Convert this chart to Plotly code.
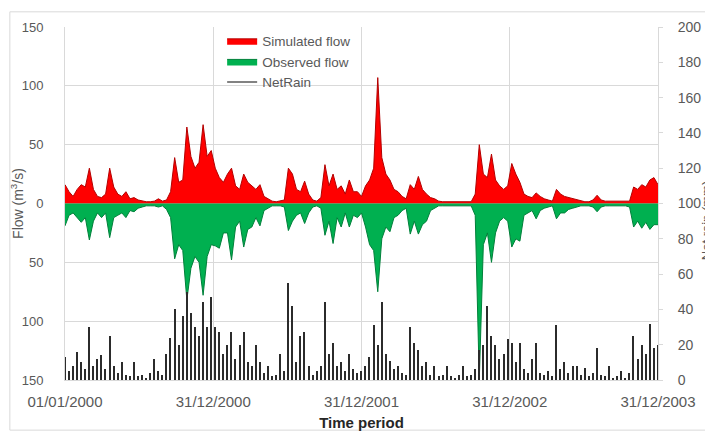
import pandas as pd
import plotly.graph_objects as go

# ~10-day sampling of the daily series, 01/01/2000 .. 31/12/2003
dates = pd.date_range("2000-01-01", "2003-12-31", freq="10D")

simulated_flow = [
    16, 10, 6, 12, 16, 14, 30, 12, 6, 5, 8, 30, 14, 8, 6, 10, 4, 5, 3, 2,
    1.5, 1.5, 2, 4, 2, 3, 10, 39, 18, 20, 65, 40, 30, 35, 67, 40, 45,
    30, 22, 18, 25, 30, 15, 12, 25, 18, 15, 12, 16, 6, 4, 2, 1.5, 2, 3,
    30, 25, 12, 10, 19, 8, 3, 2, 5, 33, 15, 25, 12, 15, 8, 20, 10, 10,
    6, 15, 20, 30, 107, 39, 25, 20, 12, 10, 6, 4, 16, 12, 23, 12, 8, 5,
    4, 2, 1.5, 1.5, 2, 1.5, 1.5, 1.5, 2, 1.5, 8, 50, 25, 22, 42, 20, 15,
    12, 15,
    34, 25, 18, 8, 6, 5, 9, 6, 4, 3, 2, 12, 8, 6, 5, 4, 3, 2, 1.5, 1.5,
    3, 7, 3, 2, 2, 1.5, 1.5, 1.5, 1.5, 2, 14, 12, 16, 14, 20, 22, 16,
]

observed_flow = [
    19, 10, 8, 12, 16, 12, 31, 15, 8, 12, 8, 29, 12, 10, 8, 12, 6, 7, 4, 3,
    2, 2, 2, 3, 2, 5, 12, 47, 35, 40, 82, 55, 45, 50, 78, 45, 35,
    36, 38, 25, 25, 48, 20, 15, 37, 22, 20, 12, 19, 6, 4, 2, 2, 2, 3,
    23, 15, 10, 8, 17, 8, 3, 2, 4, 27, 15, 34, 12, 20, 8, 20, 10, 12,
    8, 20, 35, 40, 75, 30, 20, 24, 12, 10, 6, 4, 26, 15, 26, 18, 15, 6,
    4, 2, 2, 2, 2, 2, 2, 2, 2, 2, 10, 150, 35, 25, 50, 25, 15, 12, 15,
    37, 30, 32, 10, 8, 6, 13, 6, 4, 3, 2, 13, 8, 8, 5, 4, 3, 2, 2, 2,
    3, 7, 3, 2, 2, 2, 2, 2, 2, 3, 20, 15, 21, 16, 22, 18, 18,
]

net_rain = [
    13, 5, 8, 16, 10, 6, 30, 8, 12, 14, 6, 25, 8, 4, 10, 3, 2, 10, 2, 3,
    1, 4, 12, 5, 3, 15, 24, 40, 20, 36, 50, 38, 30, 25, 44, 30, 47,
    30, 27, 15, 20, 27, 12, 20, 27, 10, 8, 20, 10, 4, 8, 2, 3, 15, 5,
    55, 42, 10, 25, 27, 8, 3, 5, 8, 44, 15, 21, 8, 10, 5, 15, 6, 4,
    5, 8, 13, 31, 20, 44, 15, 11, 6, 8, 4, 3, 30, 21, 17, 8, 10, 3,
    8, 2, 3, 8, 2, 1, 3, 8, 2, 3, 6, 17, 20, 42, 25, 20, 12, 15, 23,
    21, 10, 21, 6, 4, 12, 21, 4, 3, 5, 2, 31, 6, 10, 4, 8, 8, 3, 7, 2,
    4, 18, 3, 2, 8, 1, 2, 5, 1, 4, 25, 12, 20, 15, 32, 18, 20,
]

x_tick_vals = ["2000-01-01", "2000-12-31", "2001-12-31", "2002-12-31", "2003-12-31"]
x_tick_text = ["01/01/2000", "31/12/2000", "31/12/2001", "31/12/2002", "31/12/2003"]
flow_tick_vals = [-150, -100, -50, 0, 50, 100, 150]
flow_tick_text = ["150", "100", "50", "0", "50", "100", "150"]

GRID = "#d9d9d9"
TXT = "#595959"
FONT = "Liberation Sans, Arial, sans-serif"

fig = go.Figure()

fig.add_trace(go.Bar(
    x=dates, y=net_rain, yaxis="y2", name="NetRain", showlegend=False,
    marker=dict(color="#2b2b2b", line=dict(width=0)),
    width=3.2 * 86400000,
))

fig.add_trace(go.Scatter(
    x=dates, y=simulated_flow, name="Simulated flow", mode="lines",
    fill="tozeroy", fillcolor="#ff0000",
    line=dict(color="#b40000", width=1),
))
fig.add_trace(go.Scatter(
    x=dates, y=[-v for v in observed_flow], name="Observed flow", mode="lines",
    fill="tozeroy", fillcolor="#00b050",
    line=dict(color="#00803a", width=1),
))
# legend entry for the rain series (drawn as thin bars above)
fig.add_trace(go.Scatter(
    x=[None], y=[None], name="NetRain", mode="lines",
    line=dict(color="#595959", width=1.5),
))

# the page body adds an 8 px offset, margins compensate for it
fig.update_layout(
    width=713, height=436,
    margin=dict(l=57, r=63, t=19, b=64),
    paper_bgcolor="white", plot_bgcolor="white",
    font=dict(family=FONT, size=13, color=TXT),
    bargap=0,
    barmode="overlay",
    legend=dict(
        x=0.265, y=1.004, xanchor="left", yanchor="top",
        bgcolor="rgba(0,0,0,0)", font=dict(size=13.5, color=TXT),
        itemwidth=30, tracegroupgap=0,
    ),
    xaxis=dict(
        type="date", range=["2000-01-01", "2003-12-31"],
        tickvals=x_tick_vals, ticktext=x_tick_text,
        tickfont=dict(size=15),
        showgrid=True, gridcolor=GRID, gridwidth=1,
        showline=True, linecolor=GRID, ticks="", ticklabelstandoff=8,
        title=dict(text="<b>Time period</b>", font=dict(size=15, color="#262626"), standoff=8),
        zeroline=False, automargin=False,
    ),
    yaxis=dict(
        range=[-150, 150], tickvals=flow_tick_vals, ticktext=flow_tick_text,
        tickfont=dict(size=13),
        showgrid=True, gridcolor=GRID, zeroline=False,
        showline=True, linecolor=GRID, ticks="", ticklabelstandoff=18,
        title=dict(text="Flow (m<sup>3</sup>/s)", font=dict(size=14, color=TXT), standoff=0),
        automargin=False,
    ),
    yaxis2=dict(
        overlaying="y", side="right", range=[0, 200], dtick=20,
        tickfont=dict(size=14),
        showgrid=False, zeroline=False,
        showline=True, linecolor=GRID, ticks="outside", ticklen=4, tickcolor=GRID,
        ticklabelstandoff=12,
        automargin=False,
    ),
    annotations=[dict(
        text="Net rain (mm)", xref="paper", yref="paper",
        x=1.081, y=0.45, xanchor="center", yanchor="middle",
        textangle=-90, showarrow=False,
        font=dict(size=13, color=TXT),
    )],
    shapes=[dict(
        type="rect", xref="paper", yref="paper",
        x0=-0.093, x1=1.092, y0=-0.142, y1=1.043,
        line=dict(color=GRID, width=1), fillcolor="rgba(0,0,0,0)", layer="below",
    )],
)

fig.write_html("out.html")
